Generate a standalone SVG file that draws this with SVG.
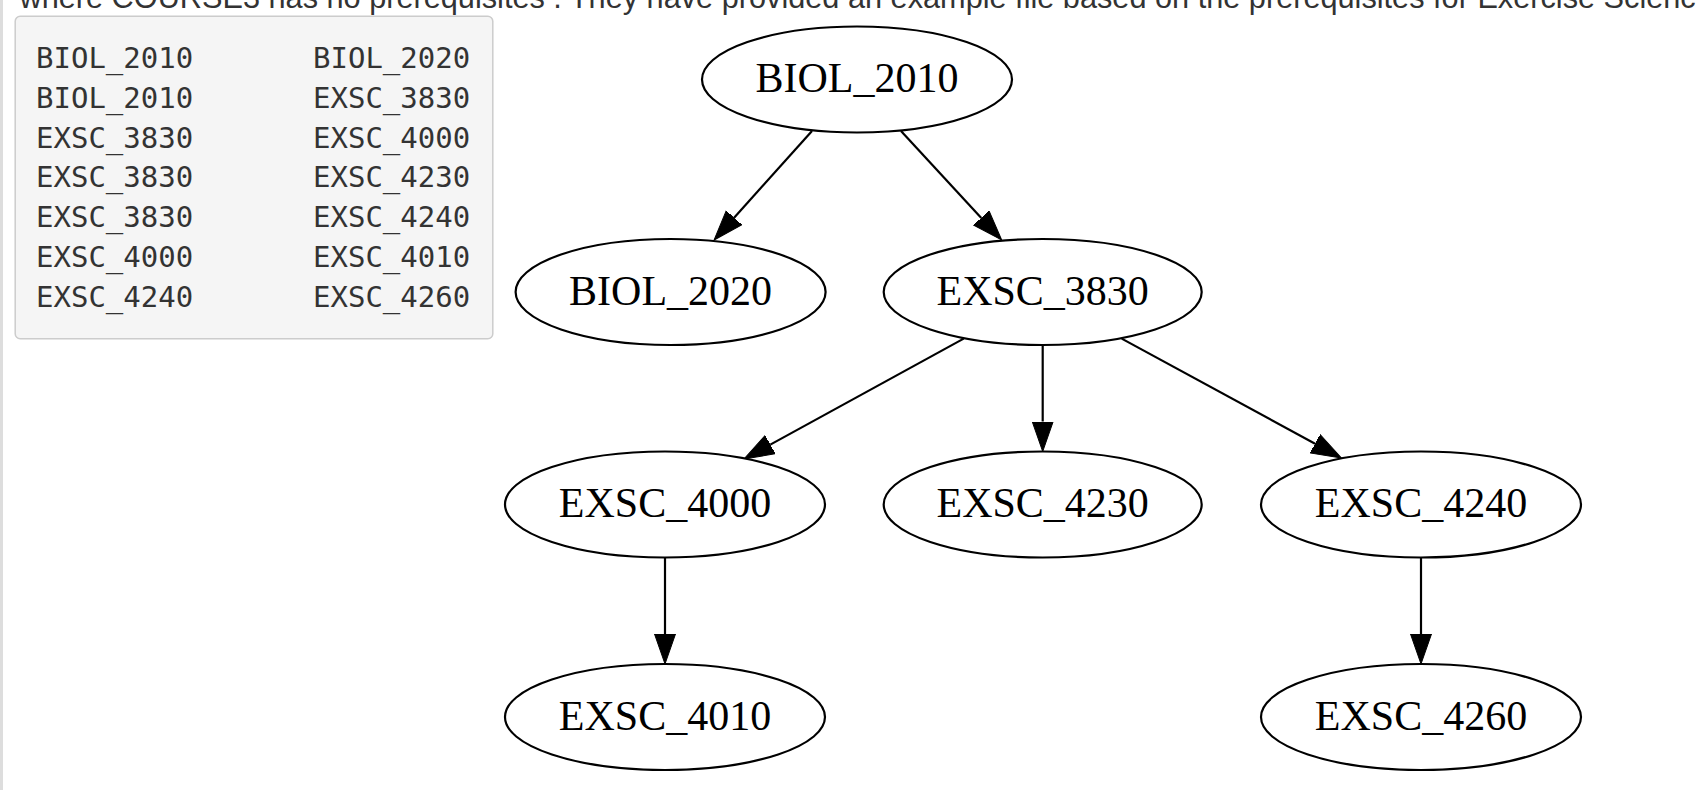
<svg xmlns="http://www.w3.org/2000/svg" width="1696" height="790" viewBox="0 0 1696 790">
<style>
.page{font-family:"Liberation Sans",Arial,sans-serif;font-size:30.7px;fill:#333}
.code{font-family:"DejaVu Sans Mono","Liberation Mono",monospace;font-size:29px;fill:#333}
.node ellipse{fill:#fff;stroke:#000;stroke-width:2.2}
.node text{font-family:"Liberation Serif","Times New Roman",serif;font-size:42px;fill:#000;text-anchor:middle}
.edge{stroke:#000;stroke-width:2.2;fill:none;marker-end:url(#arr)}
</style>
<defs>
<marker id="arr" markerUnits="userSpaceOnUse" markerWidth="32" markerHeight="24" refX="0" refY="11" orient="auto">
<path d="M0,0.5 L30,11 L0,21.5 Z" fill="#000" stroke="#000" stroke-width="1"/>
</marker>
</defs>
<rect width="1696" height="790" fill="#fff"/>
<rect x="0" y="0" width="3" height="790" fill="#ddd"/>
<text class="page" x="19.5" y="8">where COURSE3 has no prerequisites . They have provided an example file based on the prerequisites for Exercise Science</text>
<g id="codebox">
<rect x="15.2" y="16.2" width="477.6" height="322.6" rx="5" fill="#f5f5f5" stroke="#ccc" stroke-width="1.5"/>
<text class="code" x="36" y="68.3">BIOL_2010</text><text class="code" x="313" y="68.3">BIOL_2020</text>
<text class="code" x="36" y="108">BIOL_2010</text><text class="code" x="313" y="108">EXSC_3830</text>
<text class="code" x="36" y="147.7">EXSC_3830</text><text class="code" x="313" y="147.7">EXSC_4000</text>
<text class="code" x="36" y="187.4">EXSC_3830</text><text class="code" x="313" y="187.4">EXSC_4230</text>
<text class="code" x="36" y="227.1">EXSC_3830</text><text class="code" x="313" y="227.1">EXSC_4240</text>
<text class="code" x="36" y="266.8">EXSC_4000</text><text class="code" x="313" y="266.8">EXSC_4010</text>
<text class="code" x="36" y="306.5">EXSC_4240</text><text class="code" x="313" y="306.5">EXSC_4260</text>
</g>
<g id="edges">
<path class="edge" d="M812,131 L734.1,217.7"/>
<path class="edge" d="M901,131 L981.3,217.9"/>
<path class="edge" d="M963.7,338.6 L770.3,444.6"/>
<path class="edge" d="M1042.7,345 L1042.7,421.5"/>
<path class="edge" d="M1121.7,338.6 L1315.1,443.7"/>
<path class="edge" d="M665,557.5 L665,634"/>
<path class="edge" d="M1421,557.5 L1421,634"/>
</g>
<g id="BIOL_2010" class="node"><ellipse cx="857" cy="79.5" rx="155" ry="53"/><text x="857" y="92.3">BIOL_2010</text></g>
<g id="BIOL_2020" class="node"><ellipse cx="670.6" cy="292" rx="155" ry="53"/><text x="670.6" y="304.8">BIOL_2020</text></g>
<g id="EXSC_3830" class="node"><ellipse cx="1042.7" cy="292" rx="159" ry="53"/><text x="1042.7" y="304.8">EXSC_3830</text></g>
<g id="EXSC_4000" class="node"><ellipse cx="665" cy="504.5" rx="160" ry="53"/><text x="665" y="517.3">EXSC_4000</text></g>
<g id="EXSC_4230" class="node"><ellipse cx="1042.7" cy="504.5" rx="159" ry="53"/><text x="1042.7" y="517.3">EXSC_4230</text></g>
<g id="EXSC_4240" class="node"><ellipse cx="1421" cy="504.5" rx="160" ry="53"/><text x="1421" y="517.3">EXSC_4240</text></g>
<g id="EXSC_4010" class="node"><ellipse cx="665" cy="717" rx="160" ry="53"/><text x="665" y="729.8">EXSC_4010</text></g>
<g id="EXSC_4260" class="node"><ellipse cx="1421" cy="717" rx="160" ry="53"/><text x="1421" y="729.8">EXSC_4260</text></g>
</svg>
